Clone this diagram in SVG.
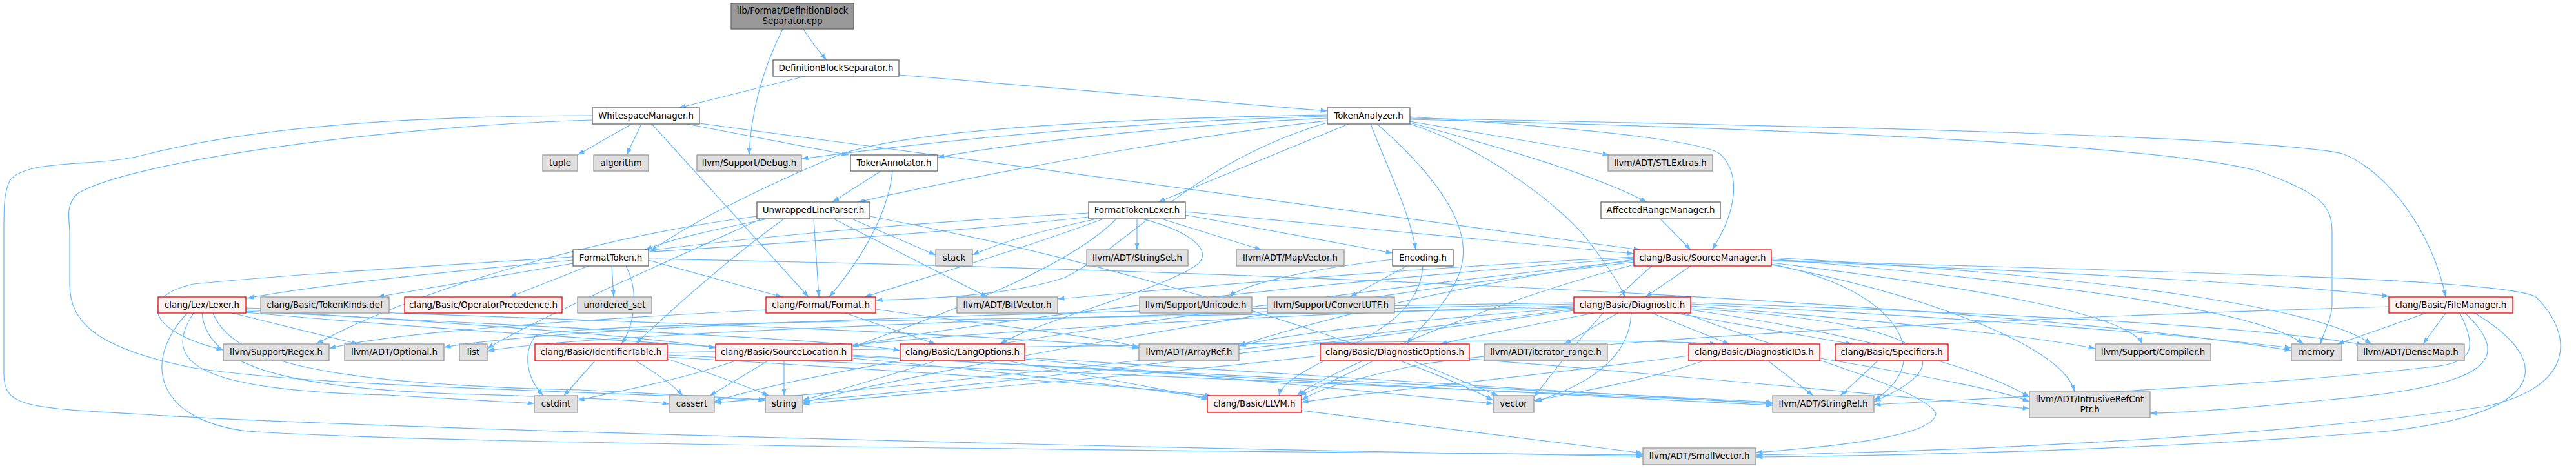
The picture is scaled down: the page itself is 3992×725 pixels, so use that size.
<svg xmlns="http://www.w3.org/2000/svg" width="3992" height="725" viewBox="0 0 3992 725">
<style>
.e path{fill:none;stroke:#63b8ff;stroke-width:1.2;marker-end:url(#ah)}
.nd rect{stroke-width:1.3}
.w rect{fill:#ffffff;stroke:#666666}
.g rect{fill:#e0e0e0;stroke:#999999}
.r rect{fill:#fff0f0;stroke:#ff0000}
.root rect{fill:#999999;stroke:#666666}
text{font-family:"DejaVu Sans","Liberation Sans",sans-serif;font-size:13.33px;fill:#000;text-anchor:middle}
</style>
<defs>
<marker id="ah" markerWidth="11" markerHeight="8" refX="10.5" refY="4" orient="auto" markerUnits="userSpaceOnUse"><path d="M0,0.3 L10.5,4 L0,7.7z" fill="#63b8ff" stroke="none"/></marker>
</defs>
<rect width="3992" height="725" fill="#ffffff"/>
<g id="connectors" class="e">
<path d="M1245,45 C1255,62 1268,78 1281,93"/>
<path d="M1213,45 C1180,110 1163,180 1161,240"/>
<path d="M1248,118 L1052,167"/>
<path d="M1393,116 L2057,172"/>
<path d="M979,192 L895,240"/>
<path d="M994,192 L971,240"/>
<path d="M1064,192 L1315,240"/>
<path d="M1084,191 L2542,387"/>
<path d="M1010,192 L1253,460"/>
<path d="M918,186 C600,195 200,250 120,300 C100,320 108,340 108,360 L108,440 C108,500 150,540 300,570 C500,600 900,605 1186,620"/>
<path d="M918,179 C600,180 380,200 223,240 C150,260 40,245 15,280 C6,300 6,320 6,360 L6,580 C6,630 40,632 223,642 C500,660 1500,690 2546,707"/>
<path d="M2057,180 C1700,190 1400,225 1242,246"/>
<path d="M2057,183 C1800,195 1550,225 1453,244"/>
<path d="M2057,187 C1800,215 1450,285 1330,313"/>
<path d="M2090,192 L1795,313"/>
<path d="M2057,178 C1650,185 1400,205 1300,240 C1180,290 1060,350 1008,390"/>
<path d="M2185,188 L2494,240"/>
<path d="M2185,190 C2330,230 2470,270 2552,313"/>
<path d="M2185,181 C2400,195 2630,215 2665,238 C2700,270 2690,330 2653,387"/>
<path d="M2124,192 C2150,260 2185,330 2194,387"/>
<path d="M2185,192 C2290,225 2410,310 2459,370 C2490,410 2510,440 2518,460"/>
<path d="M2134,192 C2200,250 2275,330 2267,400 C2260,460 2200,505 2180,533"/>
<path d="M2185,183 C2800,195 3500,210 3630,238 C3700,265 3770,360 3790,460"/>
<path d="M2185,185 C2800,200 3350,225 3500,265 C3600,300 3614,320 3614,360 L3614,470 C3614,495 3600,515 3596,533"/>
<path d="M2057,190 C1850,250 1750,380 1650,430 C1560,460 1420,463 1357,465"/>
<path d="M1365,265 L1290,313"/>
<path d="M1383,265 C1378,320 1345,390 1285,460"/>
<path d="M1190,339 C1110,355 1040,370 1000,387"/>
<path d="M1215,339 C1130,400 1040,480 985,533"/>
<path d="M1261,339 L1269,460"/>
<path d="M1292,339 L1530,460"/>
<path d="M1320,339 L1450,395"/>
<path d="M1173,335 C900,370 620,460 490,533"/>
<path d="M1180,339 C1000,420 820,500 755,540"/>
<path d="M1348,335 C1800,420 2200,560 2314,620"/>
<path d="M1762,339 L1762,387"/>
<path d="M1800,339 L1955,387"/>
<path d="M1700,339 C1600,360 1540,380 1507,395"/>
<path d="M1837,333 L2158,392"/>
<path d="M1837,328 L2532,393"/>
<path d="M1687,330 C1400,345 1150,370 1006,388"/>
<path d="M1710,339 C1600,380 1450,425 1340,460"/>
<path d="M1770,339 C1850,360 1880,390 1855,410 C1800,450 1600,500 1550,533"/>
<path d="M1730,339 C1650,420 1450,490 1320,538"/>
<path d="M1687,336 C1300,380 600,410 300,440 C210,460 230,515 346,542"/>
<path d="M888,403 C700,420 500,440 383,462"/>
<path d="M888,408 L585,460"/>
<path d="M912,412 L790,460"/>
<path d="M948,412 L951,460"/>
<path d="M970,412 C990,450 985,500 963,533"/>
<path d="M1005,403 L1212,460"/>
<path d="M1005,401 C2000,420 3100,470 3551,543"/>
<path d="M360,485 L555,533"/>
<path d="M290,485 C220,560 240,650 383,668 C700,690 2000,700 2546,705"/>
<path d="M300,485 C250,560 300,605 600,612 L828,625"/>
<path d="M313,485 C320,560 420,600 700,610 C900,616 1000,620 1037,626"/>
<path d="M330,485 C360,560 500,595 900,604 L1186,619"/>
<path d="M381,482 C800,505 1300,525 1395,543"/>
<path d="M381,480 C700,500 1000,520 1109,539"/>
<path d="M381,477 C900,495 1500,515 1765,539"/>
<path d="M381,484 C1000,540 2400,610 2747,628"/>
<path d="M922,559 L874,613"/>
<path d="M985,559 C1020,580 1045,598 1058,613"/>
<path d="M1034,556 C1100,578 1160,600 1192,613"/>
<path d="M1034,553 C1400,575 1800,600 1878,614"/>
<path d="M1034,550 L2747,624"/>
<path d="M1034,546 C1800,535 2500,520 2660,533"/>
<path d="M1215,559 L1215,613"/>
<path d="M1190,559 L1100,613"/>
<path d="M1140,559 C1050,590 950,608 895,620"/>
<path d="M1320,555 C1600,580 1800,605 1875,617"/>
<path d="M1320,552 L2747,623"/>
<path d="M1450,559 C1350,590 1280,610 1244,620"/>
<path d="M1560,559 C1700,585 1820,605 1872,619"/>
<path d="M1588,554 L2747,626"/>
<path d="M1588,556 L2314,625"/>
<path d="M1310,485 L1450,533"/>
<path d="M1357,479 C1500,500 1700,520 1765,538"/>
<path d="M1187,480 C900,495 600,515 510,540"/>
<path d="M2180,412 L2092,460"/>
<path d="M2158,402 C2000,420 1920,445 1905,460"/>
<path d="M2205,412 C2200,490 2120,520 2050,560 C2000,585 1985,600 1982,613"/>
<path d="M2573,339 L2620,387"/>
<path d="M2620,412 L2550,460"/>
<path d="M2745,404 C3200,420 3600,445 3702,459"/>
<path d="M2745,399 C3300,430 3600,480 3675,533"/>
<path d="M2745,401 C3200,440 3500,480 3570,533"/>
<path d="M2745,407 C3100,450 3300,490 3320,533"/>
<path d="M2745,410 C3000,460 3200,540 3215,607"/>
<path d="M2745,403 C3300,420 3880,430 3930,460 C3990,520 3990,600 3850,630 C3500,680 3000,700 2721,705"/>
<path d="M2532,410 C2300,470 2050,580 2010,613"/>
<path d="M2532,400 C2000,440 1500,500 1320,536"/>
<path d="M2532,402 C2200,450 2000,510 1920,535"/>
<path d="M2532,398 C2100,420 1800,450 1639,463"/>
<path d="M2745,409 C2950,450 3000,560 2904,620"/>
<path d="M2532,404 C2000,460 1300,560 1107,622"/>
<path d="M2532,406 C2000,470 1400,580 1244,624"/>
<path d="M2560,412 C2480,480 2420,560 2377,615"/>
<path d="M3790,485 L3755,533"/>
<path d="M3760,485 L3622,533"/>
<path d="M3820,485 C3900,560 3850,600 3600,620 C3450,635 3380,640 3332,640"/>
<path d="M3835,485 C3960,560 3950,640 3700,668 C3300,700 2900,706 2721,708"/>
<path d="M3812,485 C3840,540 3830,560 3780,567 C3500,600 3100,615 2904,627"/>
<path d="M3702,475 C3200,490 2500,520 2200,565 C2080,590 2040,605 2017,620"/>
<path d="M2560,485 L2680,533"/>
<path d="M2595,485 L2870,533"/>
<path d="M2507,485 L2424,533"/>
<path d="M2470,485 C2350,508 2270,524 2232,533"/>
<path d="M2528,485 C2525,560 2450,600 2379,622"/>
<path d="M2439,474 C2000,485 1500,515 1320,535"/>
<path d="M2439,477 C2200,495 2000,515 1920,536"/>
<path d="M2439,469 C1800,478 900,500 688,538"/>
<path d="M2439,471 C1800,485 900,515 755,544"/>
<path d="M2439,481 C2000,540 1500,600 1244,621"/>
<path d="M2439,479 C2000,535 1400,600 1107,624"/>
<path d="M2439,476 C1800,495 900,495 830,520 C810,545 815,585 842,613"/>
<path d="M2620,478 C3000,500 3050,560 2904,622"/>
<path d="M2620,469 C3100,485 3500,505 3662,534"/>
<path d="M2620,471 C3100,495 3400,520 3551,539"/>
<path d="M2620,474 C2900,495 3150,520 3247,540"/>
<path d="M2620,480 C2900,520 3080,575 3145,615"/>
<path d="M2610,485 C2750,540 2980,600 3000,640 C3000,680 2800,695 2721,701"/>
<path d="M2740,559 L2810,613"/>
<path d="M2640,559 C2550,590 2430,610 2377,621"/>
<path d="M2617,551 C2400,580 2100,610 2017,623"/>
<path d="M2820,555 C3000,585 3100,605 3145,622"/>
<path d="M2128,559 C2080,585 2030,605 2014,613"/>
<path d="M2190,559 L2322,613"/>
<path d="M2046,551 C1800,580 1400,610 1244,626"/>
<path d="M2277,556 C2700,590 3000,620 3145,633"/>
<path d="M2910,559 L2852,613"/>
<path d="M2017,636 L2546,702"/>
</g>
<g id="n_cpp" class="nd root"><rect x="1133" y="5" width="190" height="40"/><text x="1228" y="21">lib/Format/DefinitionBlock</text><text x="1228" y="37">Separator.cpp</text></g>
<g id="n_dbs" class="nd w"><rect x="1198" y="93" width="195" height="25"/><text x="1295.5" y="110">DefinitionBlockSeparator.h</text></g>
<g id="n_wm" class="nd w"><rect x="918" y="167" width="166" height="25"/><text x="1001" y="184">WhitespaceManager.h</text></g>
<g id="n_ta" class="nd w"><rect x="2057" y="167" width="128" height="25"/><text x="2121" y="184">TokenAnalyzer.h</text></g>
<g id="n_tuple" class="nd g"><rect x="841" y="240" width="54" height="25"/><text x="868" y="257">tuple</text></g>
<g id="n_algorithm" class="nd g"><rect x="920" y="240" width="85" height="25"/><text x="962.5" y="257">algorithm</text></g>
<g id="n_debug" class="nd g"><rect x="1080" y="240" width="162" height="25"/><text x="1161" y="257">llvm/Support/Debug.h</text></g>
<g id="n_tann" class="nd w"><rect x="1318" y="240" width="135" height="25"/><text x="1385.5" y="257">TokenAnnotator.h</text></g>
<g id="n_stlextras" class="nd g"><rect x="2492" y="240" width="162" height="25"/><text x="2573" y="257">llvm/ADT/STLExtras.h</text></g>
<g id="n_ulp" class="nd w"><rect x="1173" y="313" width="175" height="26"/><text x="1260.5" y="330">UnwrappedLineParser.h</text></g>
<g id="n_ftl" class="nd w"><rect x="1687" y="313" width="150" height="26"/><text x="1762" y="330">FormatTokenLexer.h</text></g>
<g id="n_arm" class="nd w"><rect x="2481" y="313" width="185" height="26"/><text x="2573.5" y="330">AffectedRangeManager.h</text></g>
<g id="n_ft" class="nd w"><rect x="888" y="387" width="117" height="25"/><text x="946.5" y="404">FormatToken.h</text></g>
<g id="n_stack" class="nd g"><rect x="1450" y="387" width="57" height="25"/><text x="1478.5" y="404">stack</text></g>
<g id="n_stringset" class="nd g"><rect x="1684" y="387" width="157" height="25"/><text x="1762.5" y="404">llvm/ADT/StringSet.h</text></g>
<g id="n_mapvector" class="nd g"><rect x="1916" y="387" width="167" height="25"/><text x="1999.5" y="404">llvm/ADT/MapVector.h</text></g>
<g id="n_encoding" class="nd w"><rect x="2158" y="387" width="94" height="25"/><text x="2205" y="404">Encoding.h</text></g>
<g id="n_sm" class="nd r"><rect x="2532" y="387" width="213" height="25"/><text x="2638.5" y="404">clang/Basic/SourceManager.h</text></g>
<g id="n_lexer" class="nd r"><rect x="245" y="460" width="136" height="25"/><text x="313" y="477">clang/Lex/Lexer.h</text></g>
<g id="n_tokenkinds" class="nd g"><rect x="404" y="460" width="199" height="25"/><text x="503.5" y="477">clang/Basic/TokenKinds.def</text></g>
<g id="n_opprec" class="nd r"><rect x="627" y="460" width="244" height="25"/><text x="749" y="477">clang/Basic/OperatorPrecedence.h</text></g>
<g id="n_uset" class="nd g"><rect x="895" y="460" width="115" height="25"/><text x="952.5" y="477">unordered_set</text></g>
<g id="n_format" class="nd r"><rect x="1187" y="460" width="170" height="25"/><text x="1272" y="477">clang/Format/Format.h</text></g>
<g id="n_bitvector" class="nd g"><rect x="1483" y="460" width="156" height="25"/><text x="1561" y="477">llvm/ADT/BitVector.h</text></g>
<g id="n_unicode" class="nd g"><rect x="1766" y="460" width="174" height="25"/><text x="1853" y="477">llvm/Support/Unicode.h</text></g>
<g id="n_convertutf" class="nd g"><rect x="1964" y="460" width="197" height="25"/><text x="2062.5" y="477">llvm/Support/ConvertUTF.h</text></g>
<g id="n_diag" class="nd r"><rect x="2439" y="460" width="181" height="25"/><text x="2529.5" y="477">clang/Basic/Diagnostic.h</text></g>
<g id="n_fm" class="nd r"><rect x="3702" y="460" width="192" height="25"/><text x="3798" y="477">clang/Basic/FileManager.h</text></g>
<g id="n_regex" class="nd g"><rect x="346" y="533" width="164" height="26"/><text x="428" y="550">llvm/Support/Regex.h</text></g>
<g id="n_optional" class="nd g"><rect x="534" y="533" width="154" height="26"/><text x="611" y="550">llvm/ADT/Optional.h</text></g>
<g id="n_list" class="nd g"><rect x="712" y="533" width="43" height="26"/><text x="733.5" y="550">list</text></g>
<g id="n_idtable" class="nd r"><rect x="829" y="533" width="205" height="26"/><text x="931.5" y="550">clang/Basic/IdentifierTable.h</text></g>
<g id="n_srcloc" class="nd r"><rect x="1109" y="533" width="211" height="26"/><text x="1214.5" y="550">clang/Basic/SourceLocation.h</text></g>
<g id="n_langopts" class="nd r"><rect x="1395" y="533" width="193" height="26"/><text x="1491.5" y="550">clang/Basic/LangOptions.h</text></g>
<g id="n_arrayref" class="nd g"><rect x="1765" y="533" width="155" height="26"/><text x="1842.5" y="550">llvm/ADT/ArrayRef.h</text></g>
<g id="n_diagopts" class="nd r"><rect x="2046" y="533" width="231" height="26"/><text x="2161.5" y="550">clang/Basic/DiagnosticOptions.h</text></g>
<g id="n_iterrange" class="nd g"><rect x="2300" y="533" width="191" height="26"/><text x="2395.5" y="550">llvm/ADT/iterator_range.h</text></g>
<g id="n_diagids" class="nd r"><rect x="2617" y="533" width="203" height="26"/><text x="2718.5" y="550">clang/Basic/DiagnosticIDs.h</text></g>
<g id="n_specifiers" class="nd r"><rect x="2844" y="533" width="175" height="26"/><text x="2931.5" y="550">clang/Basic/Specifiers.h</text></g>
<g id="n_compiler" class="nd g"><rect x="3247" y="533" width="179" height="26"/><text x="3336.5" y="550">llvm/Support/Compiler.h</text></g>
<g id="n_memory" class="nd g"><rect x="3551" y="533" width="78" height="26"/><text x="3590" y="550">memory</text></g>
<g id="n_densemap" class="nd g"><rect x="3653" y="533" width="166" height="26"/><text x="3736" y="550">llvm/ADT/DenseMap.h</text></g>
<g id="n_cstdint" class="nd g"><rect x="828" y="613" width="67" height="26"/><text x="861.5" y="630">cstdint</text></g>
<g id="n_cassert" class="nd g"><rect x="1037" y="613" width="70" height="26"/><text x="1072" y="630">cassert</text></g>
<g id="n_string" class="nd g"><rect x="1186" y="613" width="58" height="26"/><text x="1215" y="630">string</text></g>
<g id="n_llvm" class="nd r"><rect x="1871" y="613" width="146" height="26"/><text x="1944" y="630">clang/Basic/LLVM.h</text></g>
<g id="n_vector" class="nd g"><rect x="2314" y="613" width="63" height="26"/><text x="2345.5" y="630">vector</text></g>
<g id="n_stringref" class="nd g"><rect x="2747" y="613" width="157" height="26"/><text x="2825.5" y="630">llvm/ADT/StringRef.h</text></g>
<g id="n_ircp" class="nd g"><rect x="3145" y="607" width="187" height="40"/><text x="3238.5" y="623">llvm/ADT/IntrusiveRefCnt</text><text x="3238.5" y="639">Ptr.h</text></g>
<g id="n_smallvector" class="nd g"><rect x="2546" y="694" width="175" height="26"/><text x="2633.5" y="711">llvm/ADT/SmallVector.h</text></g>
</svg>
